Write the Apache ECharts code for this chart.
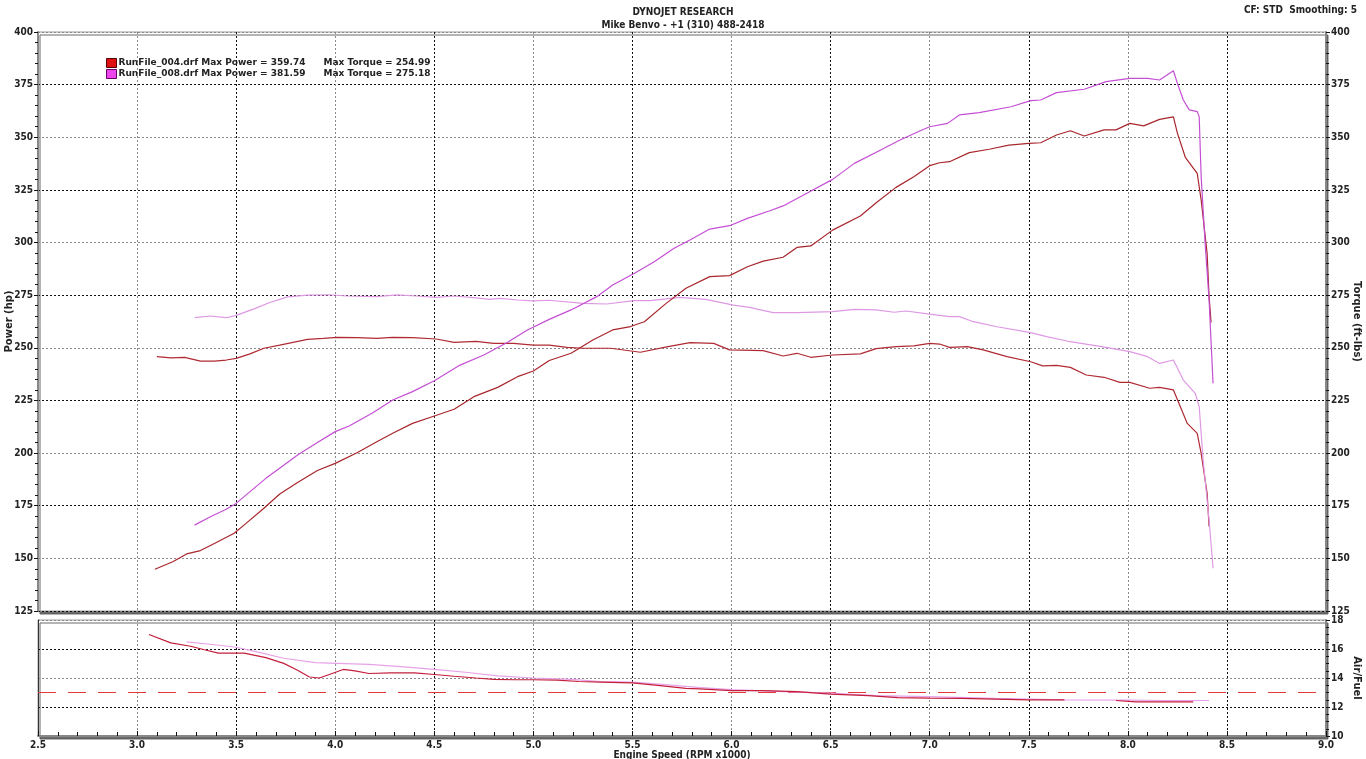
<!DOCTYPE html>
<html>
<head>
<meta charset="utf-8">
<script src="https://cdn.jsdelivr.net/npm/echarts@6/dist/echarts.min.js"></script>
<style>html,body{margin:0;padding:0;background:#fff;}#c{width:1366px;height:759px;}</style>
</head>
<body>
<div id="c"></div>
<script>
// ---- Data ----
const runNames = ['RunFile_004.drf', 'RunFile_008.drf'];
const maxPowerText = ['359.74', '381.59'];
const maxTorqueText = ['254.99', '275.18'];
const xTicks = [2.5, 3.0, 3.5, 4.0, 4.5, 5.0, 5.5, 6.0, 6.5, 7.0, 7.5, 8.0, 8.5, 9.0];

const p004_rpm = [3.09,3.18,3.25,3.32,3.40,3.49,3.55,3.64,3.72,3.81,3.91,4.00,4.11,4.21,4.29,4.39,4.50,4.60,4.70,4.82,4.92,5.00,5.08,5.19,5.30,5.40,5.49,5.56,5.67,5.77,5.89,5.99,6.08,6.16,6.26,6.33,6.40,6.51,6.65,6.73,6.83,6.92,7.00,7.05,7.10,7.20,7.30,7.40,7.50,7.56,7.64,7.71,7.78,7.88,7.94,8.01,8.08,8.16,8.23,8.25,8.29,8.35,8.37,8.40,8.41,8.42];
const p004_hp  = [144.8,148.4,152.1,153.7,157.5,161.9,166.6,173.8,180.6,186.0,191.7,195.1,200.2,205.4,209.4,214.1,217.6,220.8,226.8,231.2,236.3,239.0,244.0,247.4,253.7,258.5,260.1,262.4,271.1,278.3,283.8,284.3,288.5,291.2,293.0,297.7,298.4,305.9,312.6,318.9,326.2,331.3,336.5,337.9,338.4,342.7,344.3,346.3,347.1,347.4,351.1,353.1,350.6,353.5,353.5,356.6,355.4,358.5,359.7,352.0,340.5,332.9,320.2,294.9,274.3,262.0];

const p008_rpm = [3.29,3.37,3.45,3.50,3.57,3.65,3.74,3.81,3.91,4.00,4.07,4.19,4.29,4.39,4.50,4.63,4.75,4.87,4.97,5.08,5.19,5.32,5.40,5.51,5.61,5.71,5.79,5.89,5.99,6.08,6.19,6.26,6.38,6.51,6.62,6.77,6.85,6.95,7.00,7.09,7.15,7.25,7.41,7.51,7.56,7.64,7.78,7.89,8.01,8.10,8.16,8.23,8.25,8.28,8.31,8.35,8.36,8.37,8.39,8.41,8.43];
const p008_hp  = [165.8,169.8,173.3,176.1,181.7,188.0,194.2,199.1,205.0,210.2,212.9,219.2,225.2,229.2,234.4,241.8,246.6,252.6,258.5,263.5,268.0,274.3,279.8,285.4,290.9,297.3,301.2,306.4,308.0,311.5,315.0,317.4,323.4,330.0,337.6,344.8,348.7,353.0,355.0,356.6,360.6,361.7,364.5,367.4,367.7,371.2,372.8,376.4,378.0,378.0,377.2,381.6,375.6,367.7,363.0,362.2,359.8,331.3,299.6,272.7,233.1];

const t004_rpm = [3.10,3.17,3.24,3.32,3.39,3.45,3.50,3.57,3.64,3.72,3.86,3.94,4.01,4.11,4.21,4.29,4.39,4.51,4.60,4.71,4.80,4.90,5.00,5.08,5.17,5.25,5.39,5.54,5.66,5.79,5.91,5.99,6.16,6.26,6.33,6.40,6.51,6.65,6.73,6.83,6.92,7.00,7.05,7.10,7.19,7.27,7.39,7.51,7.57,7.64,7.71,7.79,7.88,7.96,8.01,8.11,8.16,8.23,8.30,8.35,8.37,8.40,8.41];
const t004_ftlb = [245.8,245.2,245.5,243.7,243.7,244.2,245.0,247.1,249.8,251.3,254.0,254.5,255.0,254.8,254.5,255.0,254.8,254.2,252.6,253.1,252.1,252.1,251.3,251.3,250.2,249.8,249.8,247.9,250.2,252.5,252.1,249.0,248.7,246.1,247.4,245.5,246.6,247.1,249.6,250.6,250.9,252.1,251.8,250.2,250.6,249.0,245.8,243.4,241.4,241.7,240.7,237.1,236.0,233.6,233.6,230.8,231.2,230.0,214.1,209.4,199.9,180.9,165.1];

const t008_rpm = [3.29,3.37,3.45,3.50,3.59,3.67,3.76,3.86,3.97,4.06,4.21,4.31,4.41,4.51,4.60,4.70,4.78,4.83,4.92,5.00,5.08,5.25,5.37,5.51,5.59,5.74,5.87,6.01,6.09,6.21,6.33,6.51,6.62,6.73,6.82,6.88,7.00,7.10,7.15,7.22,7.34,7.51,7.59,7.71,7.89,8.01,8.10,8.16,8.23,8.28,8.34,8.36,8.38,8.41,8.43];
const t008_ftlb = [264.3,265.1,264.3,265.4,268.5,271.5,274.2,275.0,275.2,274.6,274.3,275.1,274.6,274.0,274.6,273.8,273.0,273.5,272.7,272.3,272.6,271.1,270.8,272.4,272.4,274.0,273.0,270.3,269.2,266.7,266.7,267.2,268.3,268.0,266.9,267.5,266.0,264.8,264.8,262.4,260.0,257.2,255.3,252.9,250.2,248.2,245.8,242.6,244.2,234.7,228.4,222.1,196.7,168.2,145.3];

const a004_rpm = [3.06,3.17,3.27,3.34,3.41,3.50,3.54,3.65,3.74,3.81,3.87,3.92,3.97,4.04,4.10,4.17,4.28,4.40,4.50,4.60,4.71,4.80,4.91,5.00,5.12,5.23,5.34,5.50,5.64,5.77,5.84,6.00,6.16,6.33,6.50,6.69,6.84,7.00,7.16,7.33,7.50,7.68,7.70,7.94,8.04,8.33];
const a004_afr = [17.0,16.42,16.19,15.95,15.72,15.72,15.72,15.41,15.01,14.54,14.07,14.0,14.24,14.59,14.49,14.31,14.35,14.35,14.24,14.12,14.0,13.91,13.88,13.88,13.86,13.76,13.72,13.67,13.48,13.29,13.25,13.13,13.13,13.06,12.89,12.78,12.64,12.61,12.59,12.54,12.49,12.49,null,12.45,12.35,12.35];

const a008_rpm = [3.25,3.38,3.50,3.61,3.74,3.90,4.01,4.17,4.33,4.50,4.67,4.82,5.00,5.19,5.34,5.50,5.68,5.83,6.00,6.26,6.50,6.73,7.00,7.33,7.68,8.00,8.19,8.41];
const a008_afr = [16.49,16.31,16.12,15.79,15.36,15.06,15.01,14.94,14.78,14.59,14.38,14.14,14.0,13.91,13.76,13.72,13.53,13.36,13.2,13.06,12.96,12.78,12.71,12.59,12.49,12.47,12.45,12.45];

const target_rpm = [2.5, 9.0];
const target_afr = [13.0, 13.0];

// ---- Styling ----
const zip = (xs, ys) => xs.map((x, i) => [x, ys[i]]);
const FONT = 'DejaVu Sans';
const COND = 'DejaVu Sans Condensed';
const c004p = '#a8262c', c004t = '#b02a33', c008p = '#c44fd4', c008t = '#de98e4';
const c004a = '#c41e3c', c008a = '#e7a2e9';
const gridColsY1 = ['#111', '#8a8a8a'];
const gridColsX = ['#111', '#8a8a8a'];
const gridColsY2 = ['#8a8a8a', '#111'];
const dash = [2, 2];

function lineSeries(name, xs, ys, color, xi, yi, z) {
  return {
    name: name, type: 'line', xAxisIndex: xi, yAxisIndex: yi,
    data: zip(xs, ys), showSymbol: false, symbol: 'none',
    connectNulls: false, z: z || 3,
    lineStyle: { color: color, width: 1.2 }, itemStyle: { color: color },
    emphasis: { disabled: true }, animation: false
  };
}

const chart = echarts.init(document.getElementById('c'), null, { renderer: 'canvas' });

const labelStyle = { fontFamily: COND, fontWeight: 'bold', fontSize: 10, color: '#222' };
const nameStyle = { fontFamily: FONT, fontWeight: 'bold', fontSize: 10, color: '#222' };

const option = {
  backgroundColor: '#fff',
  animation: false,
  title: [
    { text: 'DYNOJET RESEARCH', left: 'center', top: 2, textStyle: { fontFamily: COND, fontWeight: 'bold', fontSize: 10, color: '#222' } },
    { text: 'Mike Benvo - +1 (310) 488-2418', left: 'center', top: 15, textStyle: { fontFamily: COND, fontWeight: 'bold', fontSize: 10, color: '#222' } },
    { text: 'CF: STD  Smoothing: 5', right: 4, top: 0, textStyle: { fontFamily: COND, fontWeight: 'bold', fontSize: 10, color: '#222' } }
  ],
  legend: {
    left: 101, top: 53, orient: 'vertical', itemGap: 1, itemWidth: 10, itemHeight: 9,
    icon: 'rect', selectedMode: false,
    data: [
      { name: runNames[0], itemStyle: { color: '#dd1111', borderColor: '#550000', borderWidth: 1 } },
      { name: runNames[1], itemStyle: { color: '#ee44ee', borderColor: '#660066', borderWidth: 1 } }
    ],
    formatter: function (name) {
      const i = runNames.indexOf(name);
      return '{a|' + name + ' Max Power = ' + maxPowerText[i] + '}{b|Max Torque = ' + maxTorqueText[i] + '}';
    },
    textStyle: {
      padding: [0, 0, 0, -3],
      rich: {
        a: { fontFamily: FONT, fontWeight: 'bold', fontSize: 9, color: '#222', width: 205 },
        b: { fontFamily: FONT, fontWeight: 'bold', fontSize: 9, color: '#222' }
      }
    }
  },
  grid: [
    { left: 38, right: 40, top: 32, bottom: 148, outerBoundsMode: 'none', containLabel: false,
      show: true, backgroundColor: '#fff', borderColor: '#9a9a9a', borderWidth: 1,
      shadowColor: 'rgba(90,90,90,0.9)', shadowOffsetX: 2, shadowOffsetY: 3, shadowBlur: 0 },
    { left: 38, right: 40, top: 620, bottom: 23, outerBoundsMode: 'none', containLabel: false,
      show: true, backgroundColor: '#fff', borderColor: '#9a9a9a', borderWidth: 1,
      shadowColor: 'rgba(90,90,90,0.9)', shadowOffsetX: 2, shadowOffsetY: 3, shadowBlur: 0 }
  ],
  xAxis: [
    { type: 'value', gridIndex: 0, min: xTicks[0], max: xTicks[xTicks.length - 1], interval: 0.5,
      axisLine: { show: false }, axisTick: { show: false }, axisLabel: { show: false },
      splitLine: { show: true, lineStyle: { color: gridColsX, type: dash, width: 1 } } },
    { type: 'value', gridIndex: 1, min: xTicks[0], max: xTicks[xTicks.length - 1], interval: 0.5,
      axisLine: { show: true, lineStyle: { color: '#888', width: 2 } },
      axisTick: { show: true, inside: true, length: 5, lineStyle: { color: '#111' } },
      minorTick: { show: true, splitNumber: 5, length: 4, lineStyle: { color: '#111' } },
      axisLabel: Object.assign({ margin: 4, formatter: v => v.toFixed(1) }, labelStyle),
      name: 'Engine Speed (RPM x1000)', nameLocation: 'middle', nameGap: 14, nameMoveOverlap: false,
      nameTextStyle: { fontFamily: COND, fontWeight: 'bold', fontSize: 10, color: '#222' },
      splitLine: { show: true, lineStyle: { color: gridColsX, type: dash, width: 1 } } }
  ],
  yAxis: [
    { type: 'value', gridIndex: 0, position: 'left', min: 125, max: 400, interval: 25,
      axisLine: { show: true, lineStyle: { color: '#888', width: 2 } },
      axisTick: { show: true, length: 4, lineStyle: { color: '#111' } },
      minorTick: { show: true, splitNumber: 5, length: 3, lineStyle: { color: '#111' } },
      axisLabel: Object.assign({ margin: 5 }, labelStyle),
      name: 'Power (hp)', nameLocation: 'middle', nameGap: 24, nameRotate: 90, nameMoveOverlap: false,
      nameTextStyle: nameStyle,
      splitLine: { show: true, lineStyle: { color: gridColsY1, type: dash, width: 1 } } },
    { type: 'value', gridIndex: 0, position: 'right', min: 125, max: 400, interval: 25,
      axisLine: { show: true, lineStyle: { color: '#888', width: 2 } },
      axisTick: { show: true, length: 4, lineStyle: { color: '#111' } },
      minorTick: { show: true, splitNumber: 5, length: 3, lineStyle: { color: '#111' } },
      axisLabel: Object.assign({ margin: 5 }, labelStyle),
      name: 'Torque (ft-lbs)', nameLocation: 'middle', nameGap: 26, nameRotate: -90, nameMoveOverlap: false,
      nameTextStyle: nameStyle,
      splitLine: { show: false } },
    { type: 'value', gridIndex: 1, position: 'left', min: 10, max: 18, interval: 2,
      axisLine: { show: true, lineStyle: { color: '#333', width: 1 } },
      axisTick: { show: false }, axisLabel: { show: false },
      splitLine: { show: true, lineStyle: { color: gridColsY2, type: dash, width: 1 } } },
    { type: 'value', gridIndex: 1, position: 'right', min: 10, max: 18, interval: 2,
      axisLine: { show: true, lineStyle: { color: '#888', width: 2 } },
      axisTick: { show: true, length: 4, lineStyle: { color: '#111' } },
      minorTick: { show: true, splitNumber: 4, length: 3, lineStyle: { color: '#111' } },
      axisLabel: Object.assign({ margin: 5 }, labelStyle),
      name: 'Air/Fuel', nameLocation: 'middle', nameGap: 26, nameRotate: -90, nameMoveOverlap: false,
      nameTextStyle: nameStyle,
      splitLine: { show: false } }
  ],
  series: [
    lineSeries(runNames[0], t004_rpm, t004_ftlb, c004t, 0, 1, 3),
    lineSeries(runNames[1], t008_rpm, t008_ftlb, c008t, 0, 1, 3),
    lineSeries(runNames[0], p004_rpm, p004_hp, c004p, 0, 0, 4),
    lineSeries(runNames[1], p008_rpm, p008_hp, c008p, 0, 0, 4),
    Object.assign(lineSeries('Target AFR', target_rpm, target_afr, '#e03a3a', 1, 2, 2), { lineStyle: { color: '#e03a3a', width: 1.2, type: [18, 12] } }),
    lineSeries(runNames[1], a008_rpm, a008_afr, c008a, 1, 2, 3),
    lineSeries(runNames[0], a004_rpm, a004_afr, c004a, 1, 2, 4)
  ]
};
chart.setOption(option);
</script>
</body>
</html>
